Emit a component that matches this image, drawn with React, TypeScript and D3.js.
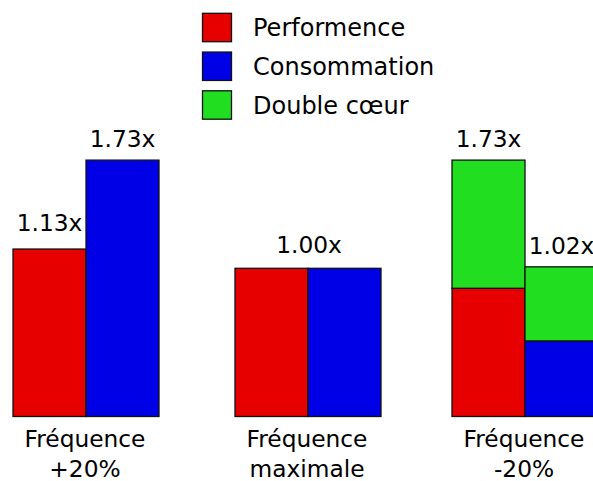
import React from "react";
import * as d3 from "d3";

const groups = ["+20%", "maximale", "-20%"];
const groupLine1 = ["Fréquence", "Fréquence", "Fréquence"];
const seriesNames = ["Performence", "Consommation", "Double cœur"];
const seriesColors = ["#e60000", "#0000e6", "#21de21"];

// left bar (performance) and right bar (consumption) base values
const perfValues = [1.13, 1.0, 0.865];
const consValues = [1.73, 1.0, 0.51];
// dual-core extra stacked on top (only for -20%)
const dualOnPerf = [0, 0, 0.865];
const dualOnCons = [0, 0, 0.5];
const perfLabels = ["1.13x", "1.00x", "1.73x"];
const consLabels = ["1.73x", null, "1.02x"];

const W = 593;
const H = 481;
const FONT = "DejaVu Sans, sans-serif";

export default function App() {
  const x = d3.scaleOrdinal<string, number>().domain(groups).range([13, 235, 452]);
  const bw = 73;
  const y = d3.scaleLinear().domain([0, 1]).range([416.5, 268.3]);
  const legendY = d3.scalePoint<string>().domain(seriesNames).range([27.5, 105]);

  const rects: JSX.Element[] = [];
  const labels: JSX.Element[] = [];
  groups.forEach((g, i) => {
    const x0 = x(g)!;
    const cols = [
      { left: x0, base: perfValues[i], extra: dualOnPerf[i], color: seriesColors[0], label: perfLabels[i] },
      { left: x0 + bw, base: consValues[i], extra: dualOnCons[i], color: seriesColors[1], label: consLabels[i] },
    ];
    cols.forEach((c, j) => {
      rects.push(
        <rect key={`b${i}-${j}`} x={c.left} y={y(c.base)} width={bw} height={y(0) - y(c.base)}
          fill={c.color} stroke="#111" strokeWidth={1.3} />
      );
      if (c.extra > 0) {
        rects.push(
          <rect key={`e${i}-${j}`} x={c.left} y={y(c.base + c.extra)} width={bw}
            height={y(c.base) - y(c.base + c.extra)} fill={seriesColors[2]} stroke="#111" strokeWidth={1.3} />
        );
      }
    });
    if (i === 1) {
      labels.push(
        <text key={`l${i}`} x={x0 + bw + 1} y={y(perfValues[i]) - 15} textAnchor="middle">{perfLabels[i]}</text>
      );
    } else {
      cols.forEach((c, j) => {
        if (c.label)
          labels.push(
            <text key={`l${i}-${j}`} x={c.left + bw / 2} y={y(c.base + c.extra) - (c.extra === 0 && j === 0 ? 18 : 13)} textAnchor="middle">{c.label}</text>
          );
      });
    }
    labels.push(
      <text key={`c1${i}`} x={x0 + bw - 1} y={447} textAnchor="middle">{groupLine1[i]}</text>,
      <text key={`c2${i}`} x={x0 + bw - 1} y={476.5} textAnchor="middle">{g}</text>
    );
  });

  return (
    <svg width={W} height={H} style={{ position: "absolute", left: 0, top: 0, overflow: "hidden" }}
      fontFamily={FONT} fontSize={23.3} fill="#000">
      <rect width={W} height={H} fill="#fff" />
      {rects}
      <g>{labels}</g>
      <g fontSize={24}>
        {seriesNames.map((s, k) => (
          <g key={s}>
            <rect x={202.5} y={legendY(s)! - 14.2} width={29} height={28.4} fill={seriesColors[k]} stroke="#111" strokeWidth={1.3} />
            <text x={253} y={legendY(s)! + 8.5}>{s}</text>
          </g>
        ))}
      </g>
    </svg>
  );
}
